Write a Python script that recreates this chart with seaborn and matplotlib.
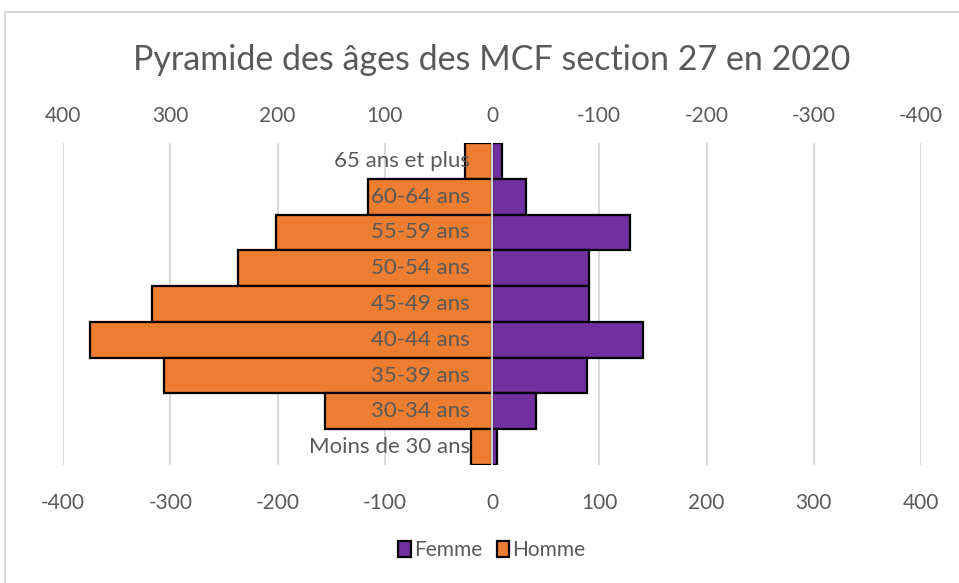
import matplotlib
matplotlib.use("Agg")
import matplotlib.pyplot as plt
import matplotlib.patches as mpatches
import seaborn as sns
import pandas as pd

# ──────────────────────────────
#  Data
# ──────────────────────────────
age_groups = ["65 ans et plus", "60-64 ans", "55-59 ans", "50-54 ans", "45-49 ans",
              "40-44 ans", "35-39 ans", "30-34 ans", "Moins de 30 ans"]
femme = [9, 32, 129, 90, 90, 141, 89, 41, 5]
homme = [25, 116, 201, 237, 317, 375, 306, 156, 20]
ticks = [-400, -300, -200, -100, 0, 100, 200, 300, 400]

FEMME_COLOR = "#7030A0"
HOMME_COLOR = "#ED7D31"
TEXT_COLOR = "#595959"
GRID_COLOR = "#D9D9D9"

df = pd.DataFrame({
    "age": age_groups * 2,
    "sexe": ["Femme"] * len(age_groups) + ["Homme"] * len(age_groups),
    "effectif": femme + [-v for v in homme],
})

sns.set_theme(style="white")
plt.rcParams["font.family"] = ["Lato", "DejaVu Sans"]
plt.rcParams["axes.unicode_minus"] = False

fig = plt.figure(figsize=(9.59, 5.83), dpi=100)
ax = fig.add_axes([63 / 959, 1 - 465 / 583, (921 - 63) / 959, (465 - 143) / 583])

# vertical grid lines
for t in ticks:
    if t != 0:
        ax.axvline(t, color=GRID_COLOR, lw=1.5, zorder=0)

sns.barplot(data=df, y="age", x="effectif", hue="sexe", order=age_groups,
            hue_order=["Femme", "Homme"],
            palette={"Femme": FEMME_COLOR, "Homme": HOMME_COLOR},
            saturation=1, dodge=False, width=1.0, edgecolor="black", linewidth=1.6,
            orient="h", ax=ax, zorder=2)

# axis line at zero, drawn on top of the bars
ax.axvline(0, color="#D0D0D0", lw=1.5, zorder=3)

ax.set_xlim(-400, 400)
ax.set_ylim(len(age_groups) - 0.5, -0.5)
ax.set_xticks(ticks)
ax.set_xticklabels([str(t) for t in ticks])
ax.set_yticks([])
ax.set_xlabel("")
ax.set_ylabel("")
ax.tick_params(axis="x", length=0, pad=20, labelsize=15, labelcolor=TEXT_COLOR)
for s in ax.spines.values():
    s.set_visible(False)

# category labels next to the axis
for i, lab in enumerate(age_groups):
    ax.annotate(lab, xy=(0, i), xytext=(-16, 0), textcoords="offset points",
                ha="right", va="center", fontsize=16, color=TEXT_COLOR, zorder=4)

# top (reversed) axis
top = ax.twiny()
top.set_xlim(ax.get_xlim())
top.set_xticks(ticks)
top.set_xticklabels([str(-t) for t in ticks])
top.tick_params(axis="x", length=0, pad=12, labelsize=15, labelcolor=TEXT_COLOR)
for s in top.spines.values():
    s.set_visible(False)

# legend
ax.get_legend().remove()
leg_handles = [mpatches.Patch(facecolor=FEMME_COLOR, edgecolor="black", lw=1.6),
               mpatches.Patch(facecolor=HOMME_COLOR, edgecolor="black", lw=1.6)]
fig.legend(leg_handles, ["Femme", "Homme"], loc="center",
           bbox_to_anchor=(492 / 959, 1 - 550 / 583), ncol=2, frameon=False,
           fontsize=15, labelcolor=TEXT_COLOR, handlelength=0.6, handleheight=0.8,
           handletextpad=0.15, columnspacing=0.7)

fig.suptitle("Pyramide des âges des MCF section 27 en 2020", x=492 / 959,
             y=1 - 60 / 583, va="center", fontsize=24.5, color=TEXT_COLOR)

# chart border
fig.add_artist(mpatches.Rectangle((5 / 959, -0.01), 1.0, 1 - 12 / 583 + 0.01,
                                  transform=fig.transFigure, fill=False,
                                  edgecolor="#D9D9D9", lw=1.5))

fig.savefig("out.png", dpi=100)
